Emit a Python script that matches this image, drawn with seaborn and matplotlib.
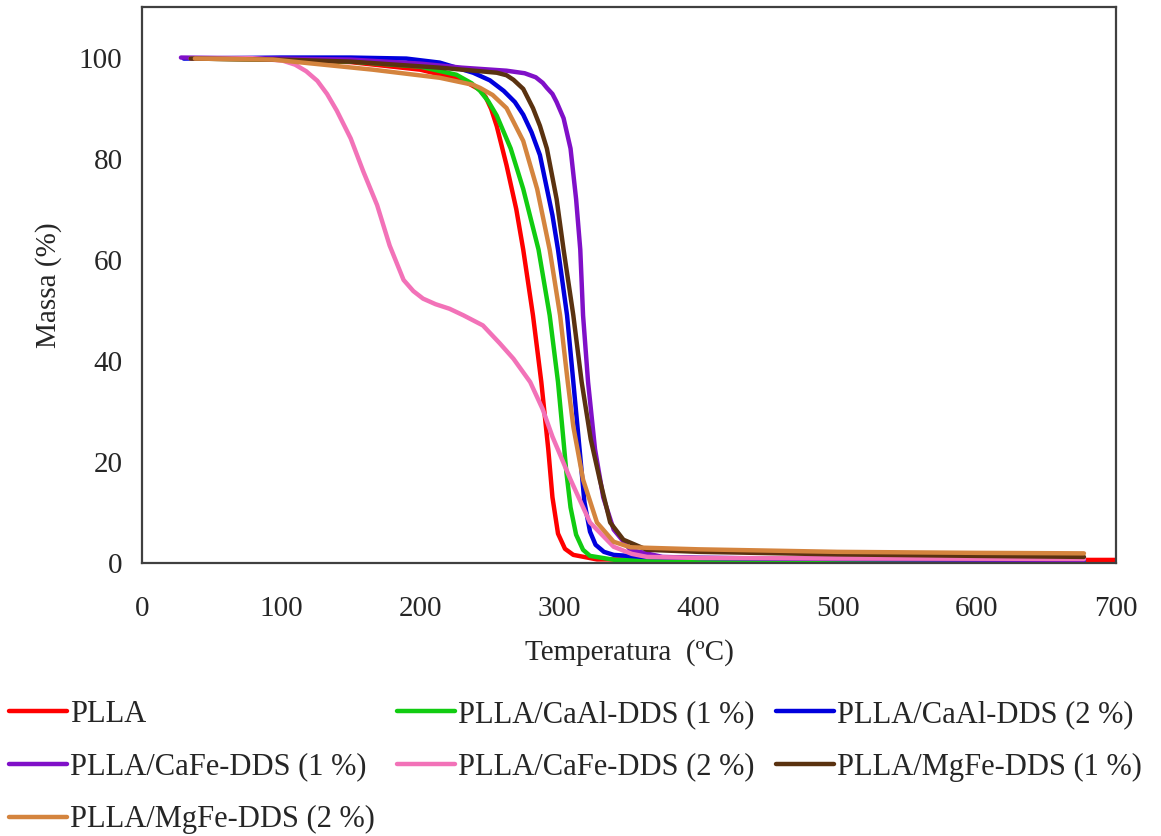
import pandas as pd
import seaborn as sns
import matplotlib.pyplot as plt

# curvas TGA (temperatura em ºC, massa em %)
labels = ["PLLA", "PLLA/CaAl-DDS (1 %)", "PLLA/CaAl-DDS (2 %)",
          "PLLA/CaFe-DDS (1 %)", "PLLA/CaFe-DDS (2 %)",
          "PLLA/MgFe-DDS (1 %)", "PLLA/MgFe-DDS (2 %)"]
cores = ['#ff0000', '#11cc11', '#0000dd', '#8010c8', '#f272b8', '#5a3210', '#d4843e']

t_plla = [35, 100, 150, 200, 230, 243, 247, 251, 255, 262, 269, 274, 281, 287, 292,
          295, 299, 304, 310, 327, 350, 400, 500, 600, 700]
m_plla = [99.8, 99.6, 99.1, 97.6, 95.6, 93.6, 92.2, 89.8, 86.4, 78.7, 70, 62, 49, 35.8, 22.5,
          13, 5.8, 2.8, 1.6, 0.7, 0.7, 0.7, 0.6, 0.6, 0.6]

t_caal1 = [35, 100, 150, 200, 226, 237, 243, 249, 255, 265, 274, 285, 293, 299, 302, 305,
           308, 312, 317, 322, 340, 400, 500, 677]
m_caal1 = [99.8, 99.6, 99.2, 98.2, 96.6, 94.9, 93.4, 91.3, 88.5, 82, 74, 62, 49, 35.8, 27, 18,
           11, 5.6, 2.6, 1.4, 0.6, 0.5, 0.5, 0.4]

t_caal2 = [30, 100, 150, 190, 214, 238, 250, 260, 268, 274, 280, 286, 295, 299, 305.5, 310,
           315, 318, 322, 326, 332, 339, 360, 400, 500, 677]
m_caal2 = [99.8, 100, 100, 99.8, 99, 97, 95.5, 93.4, 91.2, 88.7, 85.2, 80.7, 68.8, 62, 49, 35.8,
           21, 12, 6.2, 3.6, 2.2, 1.6, 1.2, 1.0, 0.8, 0.6]

t_cafe1 = [28, 100, 150, 200, 230, 262, 275, 283, 288, 291, 295, 298, 303, 308, 312, 315, 317,
           320.6, 325.6, 331.5, 339, 351, 374, 400, 500, 677]
m_cafe1 = [100, 99.8, 99.6, 98.8, 98, 97.4, 96.9, 96.1, 95, 94, 92.8, 91.2, 88, 82, 72, 62, 49,
           35.8, 22.5, 13, 6.6, 2.6, 1.2, 1.0, 0.8, 0.6]

t_cafe2 = [35, 78, 101, 110, 118, 126, 133, 140, 150, 159, 169, 178, 188, 195, 202, 211, 221,
           231, 245, 257, 267, 279, 288, 295, 308, 322, 339, 352, 363, 400, 500, 677]
m_cafe2 = [99.8, 99.9, 99.4, 98.6, 97.3, 95.4, 92.8, 89.5, 84, 77.5, 70.8, 62.8, 56, 53.8, 52.3,
           51.2, 50.3, 49, 47, 43.5, 40.4, 35.8, 30.4, 25, 16.5, 8, 3.2, 1.8, 1.2, 1.0, 0.9, 0.8]

t_mgfe1 = [35, 100, 150, 214, 255, 262, 267, 274, 281, 286, 291, 298, 303, 310, 316,
           322.5, 329, 336.5, 346, 363, 400, 500, 600, 677]
m_mgfe1 = [99.8, 99.6, 99.2, 98, 97, 96.5, 95.6, 93.8, 90, 86.5, 82, 72, 62, 49, 35.8,
           24.5, 16.5, 8, 4.6, 2.6, 2.2, 1.7, 1.4, 1.2]

t_mgfe2 = [38, 94, 166, 214, 238, 243, 252, 262, 274, 284, 293, 300.5, 306, 310, 313,
           317, 327, 339, 351, 400, 500, 600, 677]
m_mgfe2 = [99.8, 99.6, 97.6, 96, 94.6, 94, 92.6, 90, 83.5, 74, 62, 49, 35.8, 27, 22.5,
           16.5, 8, 4.2, 3.1, 2.7, 2.2, 2.0, 1.9]

temps = [t_plla, t_caal1, t_caal2, t_cafe1, t_cafe2, t_mgfe1, t_mgfe2]
massas = [m_plla, m_caal1, m_caal2, m_cafe1, m_cafe2, m_mgfe1, m_mgfe2]

#%% gráfico
sns.set_style('white')
plt.rcParams['font.family'] = ['Liberation Serif', 'DejaVu Serif']

fig = plt.figure(figsize=(11.61, 8.36), dpi=100)
ax = fig.add_axes([0.1223, 0.3266, 0.8389, 0.665])

linhas = []
for t, m, lab, c in zip(temps, massas, labels, cores):
    df = pd.DataFrame({"T": t, "M": m})
    sns.lineplot(data=df, x="T", y="M", color=c, linewidth=3.2, ax=ax,
                 label=lab, legend=False, solid_joinstyle='round',
                 solid_capstyle='round')
    linhas.append(ax.lines[-1])

ax.set_xlim(0, 700)
ax.set_ylim(0, 110)
ax.set_xticks(range(0, 701, 100))
ax.set_yticks(range(0, 101, 20))
ax.tick_params(axis='y', length=0, labelsize=21, pad=14)
ax.tick_params(axis='x', length=0, labelsize=21, pad=24)
ax.set_xlabel("Temperatura  (ºC)", fontsize=21, labelpad=12)
ax.set_ylabel("Massa (%)", fontsize=21, labelpad=12)
for s in ax.spines.values():
    s.set_color('#404040')
    s.set_linewidth(1.6)

# ordem para preencher linha a linha com 3 colunas
ordem = [0, 3, 6, 1, 4, 2, 5]
fig.legend([linhas[i] for i in ordem], [labels[i] for i in ordem],
           loc='upper left', bbox_to_anchor=(0.008, 0.163), ncol=3, frameon=False,
           fontsize=22, handlelength=1.9, handletextpad=0.1, columnspacing=0.7,
           labelspacing=0.78, borderaxespad=0, borderpad=0)

plt.savefig('out.png', dpi=100)
